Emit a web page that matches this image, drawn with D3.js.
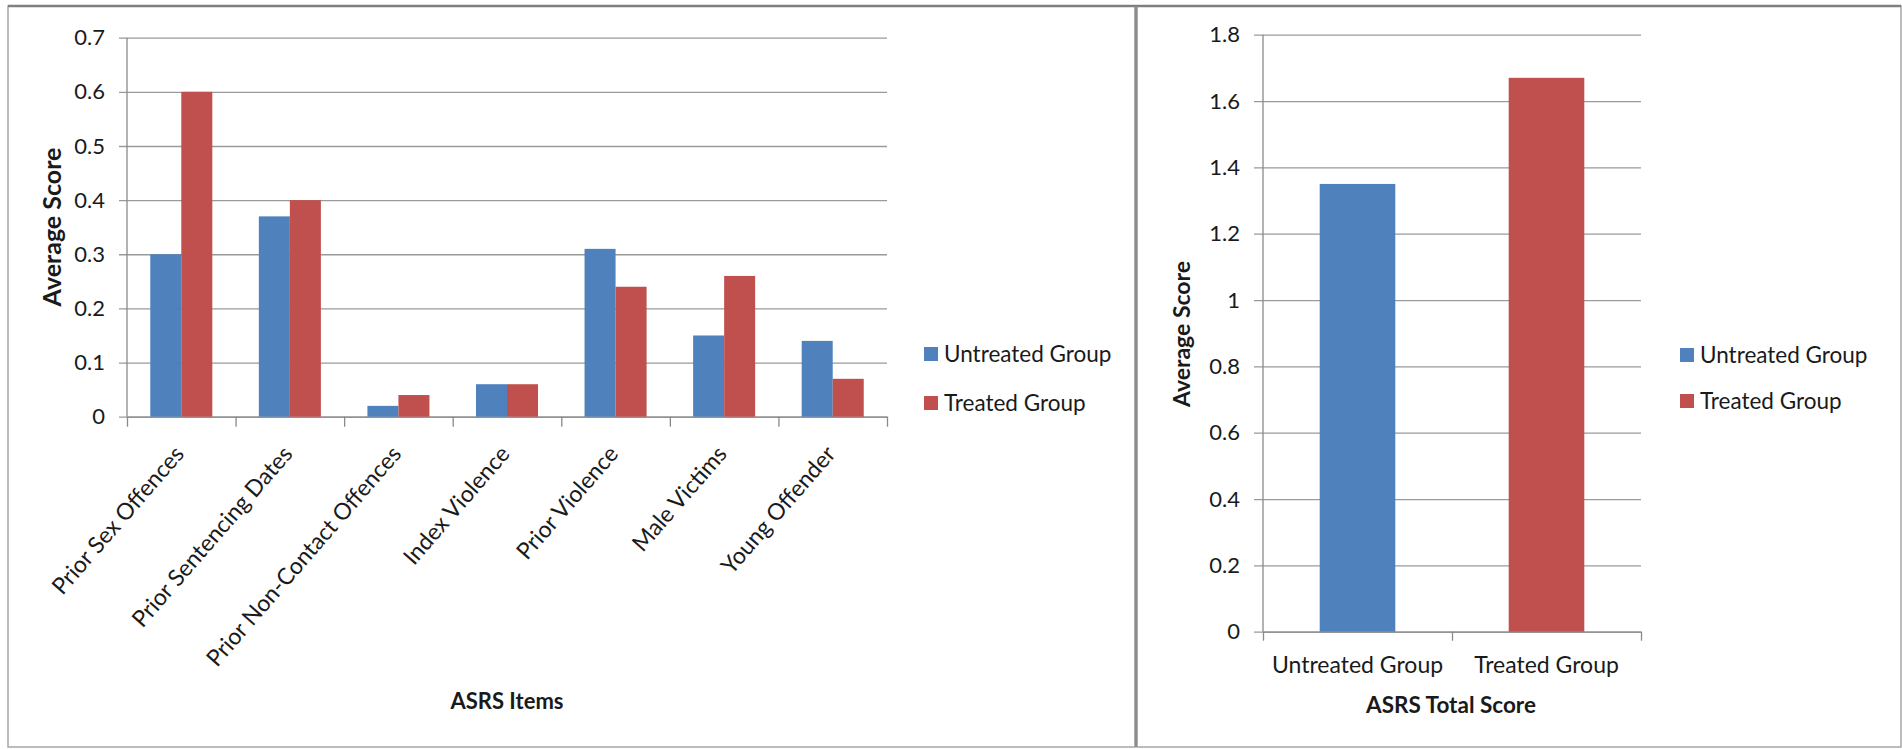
<!DOCTYPE html>
<html>
<head>
<meta charset="utf-8">
<script src="https://cdn.jsdelivr.net/npm/d3@7/dist/d3.min.js"></script>
<style>
  html, body { margin: 0; padding: 0; background: #ffffff; }
  svg { display: block; }
  text { font-family: Lato, "Open Sans", sans-serif; fill: #1a1a1a; }
  .grid line { stroke: #9a9a9a; stroke-width: 1.3; }
  .grid .domain { display: none; }
  .axis-line { stroke: #8a8a8a; stroke-width: 1.3; }
</style>
</head>
<body>
<svg id="chart" width="1902" height="749"></svg>
<script>
// ASRS item averages by group
const itemCategories = [
  "Prior Sex Offences", "Prior Sentencing Dates", "Prior Non-Contact Offences",
  "Index Violence", "Prior Violence", "Male Victims", "Young Offender"
];
const untreatedItems = [0.30, 0.37, 0.02, 0.06, 0.31, 0.15, 0.14];
const treatedItems   = [0.60, 0.40, 0.04, 0.06, 0.24, 0.26, 0.07];
const itemTicks = [0, 0.1, 0.2, 0.3, 0.4, 0.5, 0.6, 0.7];

// ASRS total score by group
const totalCategories = ["Untreated Group", "Treated Group"];
const totalScores = [1.35, 1.67];
const totalTicks = [0, 0.2, 0.4, 0.6, 0.8, 1, 1.2, 1.4, 1.6, 1.8];

const seriesNames = ["Untreated Group", "Treated Group"];
const seriesColors = ["#4f81bd", "#c0504d"];

const svg = d3.select("#chart");
const fmt = v => String(+v.toFixed(1));

// panel frames
svg.append("rect").attr("x", 8).attr("y", 6).attr("width", 1127).attr("height", 741)
  .attr("fill", "none").attr("stroke", "#a6a6a6").attr("stroke-width", 1.5);
svg.append("rect").attr("x", 1137).attr("y", 6).attr("width", 764).attr("height", 741)
  .attr("fill", "none").attr("stroke", "#a6a6a6").attr("stroke-width", 1.5);
svg.append("line").attr("x1", 8).attr("x2", 1901).attr("y1", 6).attr("y2", 6)
  .attr("stroke", "#7f7f7f").attr("stroke-width", 2.5);
svg.append("line").attr("x1", 1136).attr("x2", 1136).attr("y1", 6).attr("y2", 747)
  .attr("stroke", "#8c8c8c").attr("stroke-width", 2.5);

function drawLegend(g, x, y0, step) {
  seriesNames.forEach((name, i) => {
    const y = y0 + i * step;
    g.append("rect").attr("x", x).attr("y", y - 7).attr("width", 14).attr("height", 14)
      .attr("fill", seriesColors[i]);
    g.append("text").attr("x", x + 20).attr("y", y).attr("dy", "0.35em")
      .style("font-size", "22.5px").text(name);
  });
}

// ---------- left panel: item averages ----------
{
  const L = { x0: 127, x1: 887, yTop: 37.7, yBase: 416.7 };
  const g = svg.append("g");
  const y = d3.scaleLinear().domain([0, 0.7]).range([L.yBase, L.yTop]);
  const x = d3.scaleBand().domain(itemCategories).range([L.x0, L.x1]).padding(0);
  const barW = x.bandwidth() / 3.5;

  const grid = g.append("g").attr("class", "grid")
    .attr("transform", `translate(${L.x1},0)`)
    .call(d3.axisLeft(y).tickValues(itemTicks).tickFormat(fmt)
      .tickSize(L.x1 - L.x0 + 8).tickPadding(14));
  grid.selectAll("text").style("font-size", "22px");

  g.append("line").attr("class", "axis-line")
    .attr("x1", L.x0).attr("x2", L.x0).attr("y1", L.yTop).attr("y2", L.yBase);

  // category boundary ticks
  const idx = d3.scaleLinear().domain([0, itemCategories.length]).range([L.x0, L.x1]);
  const xa = g.append("g").attr("transform", `translate(0,${L.yBase})`)
    .call(d3.axisBottom(idx).tickValues(d3.range(itemCategories.length + 1))
      .tickFormat("").tickSize(10).tickSizeOuter(0));
  xa.selectAll("line").attr("stroke", "#8a8a8a").attr("stroke-width", 1.3);
  xa.select(".domain").attr("stroke", "#8a8a8a").attr("stroke-width", 1.3);

  const rows = itemCategories.map((c, i) => ({ c, vals: [untreatedItems[i], treatedItems[i]] }));
  rows.forEach(r => {
    const cx = x(r.c) + x.bandwidth() / 2;
    r.vals.forEach((v, k) => {
      g.append("rect")
        .attr("x", cx - barW + k * barW).attr("width", barW)
        .attr("y", y(v)).attr("height", y(0) - y(v))
        .attr("fill", seriesColors[k]);
    });
    g.append("text")
      .attr("transform", `translate(${cx + 4},${L.yBase + 38}) rotate(-49)`)
      .attr("text-anchor", "end")
      .style("font-size", "23px")
      .text(r.c);
  });

  g.append("text").attr("transform", `translate(61,227) rotate(-90)`)
    .attr("text-anchor", "middle").style("font-size", "25px").style("font-weight", "bold")
    .text("Average Score");
  g.append("text").attr("x", 507).attr("y", 709).attr("text-anchor", "middle")
    .style("font-size", "22px").style("font-weight", "bold").text("ASRS Items");

  drawLegend(g, 924, 354, 49);
}

// ---------- right panel: total score ----------
{
  const R = { x0: 1263, x1: 1641, yTop: 34.7, yBase: 631.7 };
  const g = svg.append("g");
  const y = d3.scaleLinear().domain([0, 1.8]).range([R.yBase, R.yTop]);
  const x = d3.scaleBand().domain(totalCategories).range([R.x0, R.x1]).padding(0);
  const barW = x.bandwidth() / 2.5;

  const grid = g.append("g").attr("class", "grid")
    .attr("transform", `translate(${R.x1},0)`)
    .call(d3.axisLeft(y).tickValues(totalTicks).tickFormat(fmt)
      .tickSize(R.x1 - R.x0 + 9).tickPadding(14));
  grid.selectAll("text").style("font-size", "22px");

  g.append("line").attr("class", "axis-line")
    .attr("x1", R.x0).attr("x2", R.x0).attr("y1", R.yTop).attr("y2", R.yBase);

  const idx = d3.scaleLinear().domain([0, totalCategories.length]).range([R.x0, R.x1]);
  const xa = g.append("g").attr("transform", `translate(0,${R.yBase})`)
    .call(d3.axisBottom(idx).tickValues(d3.range(totalCategories.length + 1))
      .tickFormat("").tickSize(9).tickSizeOuter(0));
  xa.selectAll("line").attr("stroke", "#8a8a8a").attr("stroke-width", 1.3);
  xa.select(".domain").attr("stroke", "#8a8a8a").attr("stroke-width", 1.3);

  totalCategories.forEach((c, i) => {
    const cx = x(c) + x.bandwidth() / 2;
    g.append("rect")
      .attr("x", cx - barW / 2).attr("width", barW)
      .attr("y", y(totalScores[i])).attr("height", y(0) - y(totalScores[i]))
      .attr("fill", seriesColors[i]);
    g.append("text").attr("x", cx).attr("y", 673).attr("text-anchor", "middle")
      .style("font-size", "23px").text(c);
  });

  g.append("text").attr("transform", `translate(1190,334) rotate(-90)`)
    .attr("text-anchor", "middle").style("font-size", "23px").style("font-weight", "bold")
    .text("Average Score");
  g.append("text").attr("x", 1451).attr("y", 713).attr("text-anchor", "middle")
    .style("font-size", "22.5px").style("font-weight", "bold").text("ASRS Total Score");

  drawLegend(g, 1680, 355, 46);
}
</script>
</body>
</html>
